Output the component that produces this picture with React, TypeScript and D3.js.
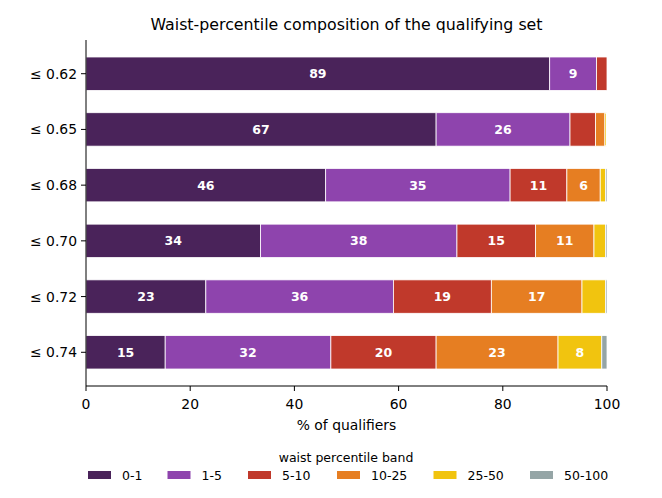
import React from "react";
import * as d3 from "d3";

const categories = ["≤ 0.62", "≤ 0.65", "≤ 0.68", "≤ 0.70", "≤ 0.72", "≤ 0.74"];
const bands = ["0-1", "1-5", "5-10", "10-25", "25-50", "50-100"];
const band0_1 = [89.0, 67.2, 46.0, 33.5, 23.0, 15.2];
const band1_5 = [9.0, 25.7, 35.4, 37.7, 36.0, 31.8];
const band5_10 = [2.0, 4.9, 10.9, 15.1, 18.8, 20.2];
const band10_25 = [0, 1.8, 6.4, 11.2, 17.4, 23.4];
const band25_50 = [0, 0.3, 1.0, 2.2, 4.5, 8.4];
const band50_100 = [0, 0.1, 0.3, 0.3, 0.3, 1.0];
const colors = ["#4a235a", "#8e44ad", "#c0392b", "#e67e22", "#f1c40f", "#95a5a6"];
const xTicks = [0, 20, 40, 60, 80, 100];

const W = 662;
const H = 498;
const M = { left: 86, right: 607, top: 40, bottom: 386 };
const FONT = "DejaVu Sans, sans-serif";

export default function App() {
  const series = [band0_1, band1_5, band5_10, band10_25, band25_50, band50_100];
  const x = d3.scaleLinear().domain([0, 100]).range([M.left, M.right]);
  const y = d3
    .scaleBand<string>()
    .domain(categories)
    .range([M.top, M.bottom])
    .paddingInner(0.4)
    .paddingOuter(0.305);

  const table = categories.map((c, i) => {
    const row: any = { cat: c };
    bands.forEach((b, j) => (row[b] = series[j][i]));
    return row;
  });
  const stacked = d3.stack().keys(bands)(table);

  const legendX = [88, 167.5, 248, 337, 433.5, 530];

  return (
    <svg
      width={W}
      height={H}
      style={{ position: "absolute", left: 0, top: 0, background: "#fff" }}
      fontFamily={FONT}
    >
      <text x={(M.left + M.right) / 2} y={30} textAnchor="middle" fontSize={15.8} fill="#000">
        Waist-percentile composition of the qualifying set
      </text>
      {stacked.map((s, j) => (
        <g key={bands[j]}>
          {s.map((d, i) => {
            const v = d[1] - d[0];
            if (v <= 0) return null;
            const x0 = x(d[0]);
            const x1 = x(d[1]);
            const yy = y(categories[i])!;
            return (
              <g key={i}>
                <rect
                  x={x0}
                  y={yy}
                  width={x1 - x0}
                  height={y.bandwidth()}
                  fill={colors[j]}
                  stroke="#fff"
                  strokeWidth={0.8}
                />
                {v >= 5.5 && (
                  <text
                    x={(x0 + x1) / 2}
                    y={yy + y.bandwidth() / 2}
                    dy="0.36em"
                    textAnchor="middle"
                    fontSize={12.5}
                    fontWeight="bold"
                    fill="#fff"
                  >
                    {Math.round(v)}
                  </text>
                )}
              </g>
            );
          })}
        </g>
      ))}
      {/* spines */}
      <line x1={M.left} x2={M.left} y1={M.top} y2={M.bottom} stroke="#000" strokeWidth={1} />
      <line x1={M.left} x2={M.right} y1={M.bottom} y2={M.bottom} stroke="#000" strokeWidth={1} />
      {/* y ticks */}
      {categories.map((c) => {
        const cy = y(c)! + y.bandwidth() / 2;
        return (
          <g key={c}>
            <line x1={M.left - 5} x2={M.left} y1={cy} y2={cy} stroke="#000" />
            <text x={M.left - 9} y={cy} dy="0.36em" textAnchor="end" fontSize={13.9} fill="#000">
              {c}
            </text>
          </g>
        );
      })}
      {/* x ticks */}
      {xTicks.map((t) => (
        <g key={t}>
          <line x1={x(t)} x2={x(t)} y1={M.bottom} y2={M.bottom + 5} stroke="#000" />
          <text x={x(t)} y={M.bottom + 23} textAnchor="middle" fontSize={13.9} fill="#000">
            {t}
          </text>
        </g>
      ))}
      <text x={(M.left + M.right) / 2} y={430} textAnchor="middle" fontSize={13.9} fill="#000">
        % of qualifiers
      </text>
      {/* legend */}
      <text x={346} y={462} textAnchor="middle" fontSize={12.5} fill="#000">
        waist percentile band
      </text>
      {bands.map((b, j) => (
        <g key={b}>
          <rect x={legendX[j]} y={471} width={23} height={8} fill={colors[j]} />
          <text x={legendX[j] + 34} y={475} dy="0.36em" fontSize={12.5} fill="#000">
            {b}
          </text>
        </g>
      ))}
    </svg>
  );
}
